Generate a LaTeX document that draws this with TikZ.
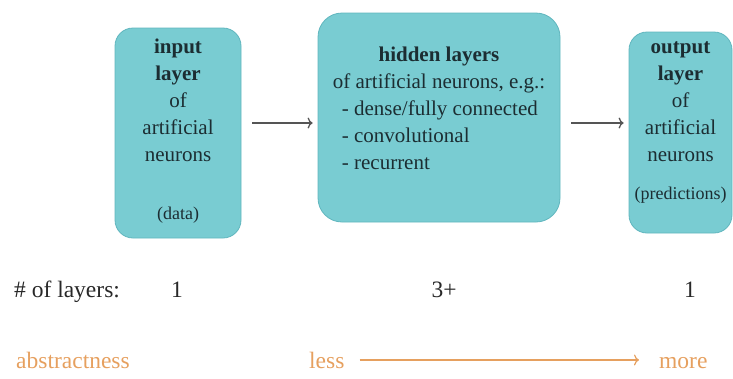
\documentclass[tikz,border=0pt]{standalone}
\usepackage{fontspec}
\setmainfont{Liberation Serif}
\usetikzlibrary{positioning,arrows.meta}

\definecolor{boxfill}{RGB}{121,204,210}
\definecolor{boxedge}{RGB}{96,182,190}
\definecolor{textdark}{RGB}{28,45,50}
\definecolor{arrowgray}{RGB}{85,85,85}
\definecolor{rowgray}{RGB}{40,40,40}
\definecolor{abstractorange}{RGB}{230,160,95}

\newcommand\boxfont{\fontsize{21}{27}\selectfont}
\newcommand\notefont{\fontsize{18}{21}\selectfont}
\newcommand\rowfont{\fontsize{23.5}{27}\selectfont}

\tikzset{
  layerbox/.style={draw=boxedge,fill=boxfill,line width=0.8pt,rounded corners=18pt},
  boxtext/.style={align=center,inner sep=0pt,text=textdark,font=\boxfont},
  rowtext/.style={inner sep=0pt,text=rowgray,font=\rowfont},
  abstracttext/.style={inner sep=0pt,text=abstractorange,font=\rowfont},
  flow/.style={-{To[length=5pt,width=11pt]},draw=arrowgray,line width=1.3pt,
    shorten <=11pt,shorten >=5pt},
}

\begin{document}
\begin{tikzpicture}[x=1pt,y=-1pt]
\useasboundingbox (0,0) rectangle (733,378);

% the three layer boxes
\node[layerbox,minimum width=126pt,minimum height=210pt] (input) at (178,133) {};
\node[layerbox,rounded corners=24pt,minimum width=242pt,minimum height=209pt] (hidden) at (439,117.5) {};
\node[layerbox,minimum width=103pt,minimum height=201pt] (output) at (680.5,132.5) {};

% box texts
\node[boxtext,below=11pt of input.north] (inputtext)
  {\textbf{input}\\\textbf{layer}\\of\\artificial\\neurons\\[31pt]{\notefont(data)}};
\node[boxtext,below=30pt of hidden.north] (hiddentext)
  {\begin{tabular}{@{}l@{}}
    \multicolumn{1}{@{}c@{}}{\textbf{hidden layers}}\\
    of artificial neurons, e.g.:\\
    \hspace{9pt}- dense/fully connected\\
    \hspace{9pt}- convolutional\\
    \hspace{9pt}- recurrent
  \end{tabular}};
\node[boxtext,below=10pt of output.north] (outputtext)
  {\textbf{output}\\\textbf{layer}\\of\\artificial\\neurons\\[11pt]{\notefont(predictions)}};

% arrows between the boxes
\coordinate (flowrow) at (0,123);
\draw[flow] (input.east |- flowrow) -- (hidden.west |- flowrow);
\draw[flow] (hidden.east |- flowrow) -- (output.west |- flowrow);

% number of layers
\node[rowtext,anchor=base west] (layerslabel) at (14,297) {\# of layers:};
\node[rowtext,anchor=base] (ninput) at (177,297) {1};
\node[rowtext,anchor=base] (nhidden) at (444,297) {3+};
\node[rowtext,anchor=base] (noutput) at (690,297) {1};

% abstractness
\node[abstracttext,anchor=base west] (abstractlabel) at (16,368) {abstractness};
\node[abstracttext,anchor=base west] (less) at (309,368) {less};
\node[abstracttext,anchor=base west] (more) at (659,368) {more};
\draw[-{To[length=5pt,width=11pt]},draw=abstractorange,line width=1.2pt,
  shorten <=15pt,shorten >=20pt] (less.east) -- (less.east -| more.west);

\end{tikzpicture}
\end{document}
